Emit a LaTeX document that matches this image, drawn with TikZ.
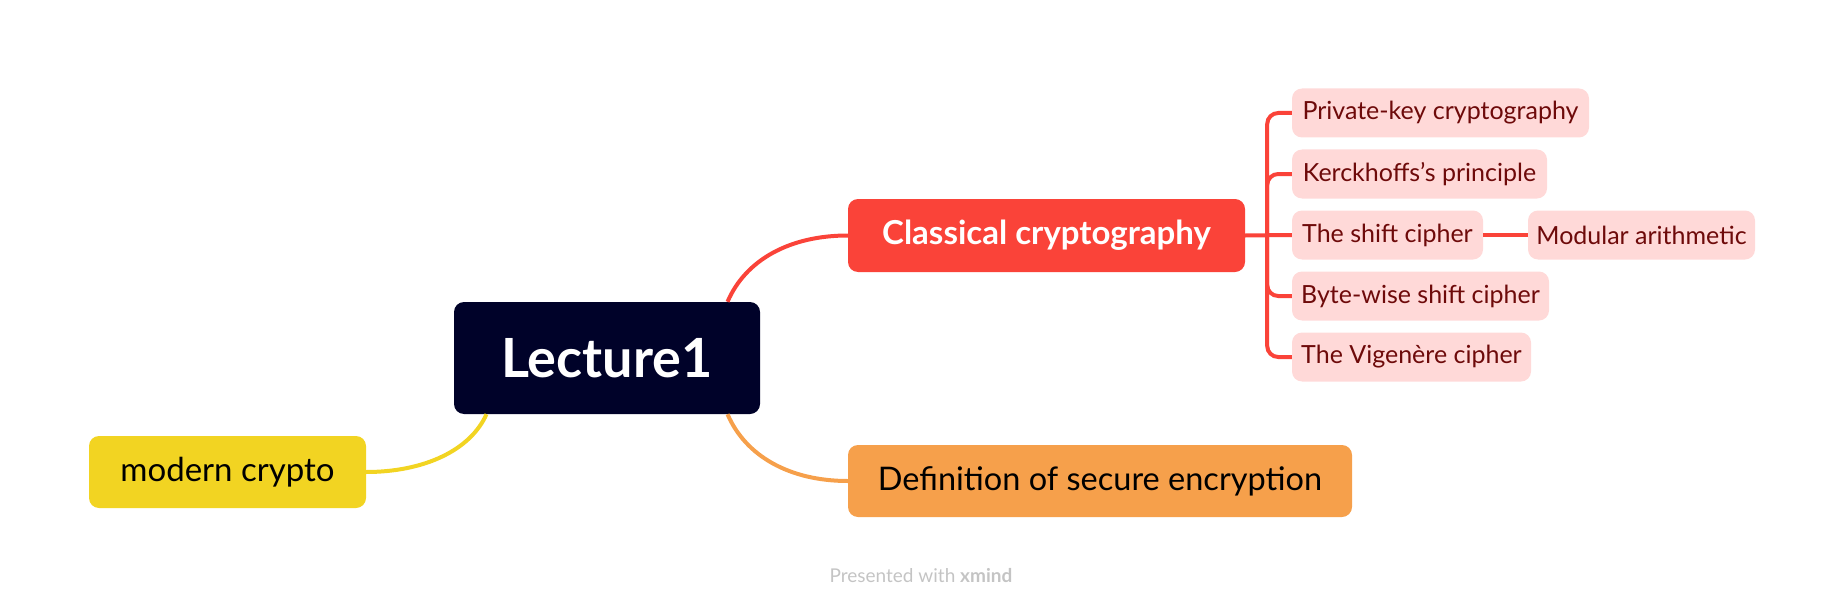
\documentclass[tikz,border=0pt]{standalone}
\usepackage{fontspec}
\setmainfont{Lato}
\usetikzlibrary{calc}

\definecolor{navy}{HTML}{000229}
\definecolor{topicred}{HTML}{FA4339}
\definecolor{topicorange}{HTML}{F6A04B}
\definecolor{topicyellow}{HTML}{F2D422}
\definecolor{subpink}{HTML}{FFD9D8}
\definecolor{subtext}{HTML}{6E0A0A}
\definecolor{creditgray}{HTML}{C4C4C4}

\begin{document}
\begin{tikzpicture}[x=1pt, y=-1pt,
  topic/.style={rounded corners=10pt, inner sep=0pt, align=center},
  subtopic/.style={topic, fill=subpink, text=subtext, minimum height=49pt,
    font=\fontsize{25}{28}\selectfont},
  link/.style={line width=4pt}]
  \useasboundingbox (0,0) rectangle (1844,607);

  % main topics
  \node[topic, fill=navy, text=white, minimum width=306pt, minimum height=112pt,
    font=\fontsize{54}{58}\selectfont\bfseries] (lec) at (607,358) {Lecture1};
  \node[topic, fill=topicred, text=white, minimum width=397pt, minimum height=73pt,
    font=\fontsize{33}{36}\selectfont\bfseries] (cls) at (1046.5,235.5) {Classical cryptography};
  \node[topic, fill=topicorange, text=black, minimum width=504pt, minimum height=72pt,
    font=\fontsize{32.5}{36}\selectfont] (def) at (1100,481) {Definition of secure encryption};
  \node[topic, fill=topicyellow, text=black, minimum width=277pt, minimum height=72pt,
    font=\fontsize{33}{36}\selectfont] (mod) at (227.5,472) {modern crypto};

  % subtopics of classical cryptography
  \node[subtopic, minimum width=297pt] (pk) at (1440.5,113) {Private-key cryptography};
  \node[subtopic, minimum width=255pt] (ker) at (1419.5,174) {Kerckhoffs's principle};
  \node[subtopic, minimum width=191pt] (sh) at (1387.5,235) {The shift cipher};
  \node[subtopic, minimum width=227pt] (ma) at (1641.5,235) {Modular arithmetic};
  \node[subtopic, minimum width=257pt] (bw) at (1420.5,296) {Byte-wise shift cipher};
  \node[subtopic, minimum width=239pt] (vig) at (1411.5,357) {The Vigenère cipher};

  \node[text=creditgray, font=\fontsize{19}{22}\selectfont] (credit) at (921,576)
    {Presented with \textbf{xmind}};

  % connectors from the central topic
  \draw[link, topicred] (lec.25) .. controls +(18,-42) and +(-58,0) .. (cls.west);
  \draw[link, topicorange] (lec.-25) .. controls +(18,42) and +(-58,0) .. (def.west);
  \draw[link, topicyellow] (lec.205) .. controls +(-16,36) and +(58,0) .. (mod.east);

  % trunk to the subtopics
  \coordinate (tr) at ($(cls.east)+(22,0)$);
  \draw[link, topicred] (cls.east) -- (sh.west);
  \draw[link, topicred, rounded corners=11pt] (pk.west) -| (tr) |- (vig.west);
  \draw[link, topicred, rounded corners=11pt] (tr) |- (ker.west);
  \draw[link, topicred, rounded corners=11pt] (tr) |- (bw.west);
  \draw[link, topicred] (sh.east) -- (ma.west);
\end{tikzpicture}
\end{document}
